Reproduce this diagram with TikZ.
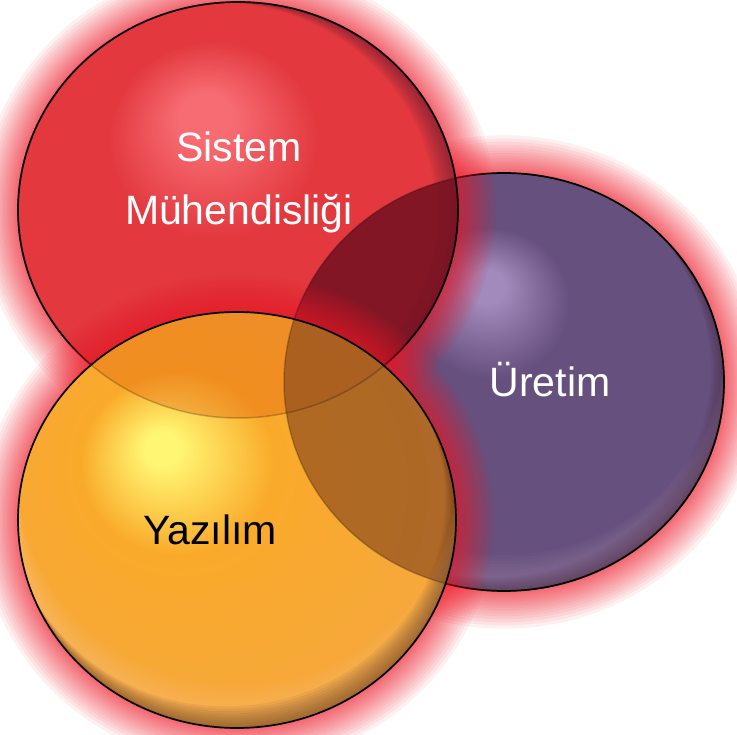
\documentclass[tikz,border=0pt]{standalone}
\usepackage{fontspec}
\setmainfont{Liberation Sans}
\definecolor{glowred}{RGB}{236,28,42}
\definecolor{redhi}{RGB}{246,108,114}
\definecolor{redmid}{RGB}{226,56,62}
\definecolor{redlo}{RGB}{180,52,60}
\definecolor{purhi}{RGB}{162,138,188}
\definecolor{purmid}{RGB}{102,80,126}
\definecolor{purlo}{RGB}{94,64,94}
\definecolor{purlight}{RGB}{170,140,175}
\definecolor{orahi}{RGB}{255,246,115}
\definecolor{oramid}{RGB}{250,170,42}
\definecolor{oraout}{RGB}{246,168,60}
\definecolor{oralo}{RGB}{205,135,55}
\definecolor{oralight}{RGB}{255,205,140}
\definecolor{rimbrown}{RGB}{105,58,25}
\definecolor{rimred}{RGB}{80,25,45}
\definecolor{rimpur}{RGB}{70,40,60}
\definecolor{maroon}{RGB}{118,18,34}
\definecolor{deeporange}{RGB}{225,92,14}
\definecolor{ovbrown}{RGB}{140,75,30}
\pgfdeclareradialshading{redball}{\pgfpoint{-4bp}{12bp}}{color(0bp)=(redhi); color(3bp)=(redhi); color(12bp)=(redmid); color(26bp)=(redmid); color(40bp)=(redlo)}
\pgfdeclareradialshading{purball}{\pgfpoint{-2bp}{12bp}}{color(0bp)=(purhi); color(2bp)=(purhi); color(9bp)=(purmid); color(28bp)=(purmid); color(42bp)=(purlo)}
\pgfdeclareradialshading{oraball}{\pgfpoint{-9bp}{9bp}}{color(0bp)=(orahi); color(2bp)=(orahi); color(11bp)=(oramid); color(28bp)=(oraout); color(45bp)=(oralo)}
\newcommand\glowring[4]{%
  \foreach \i in {1,...,16}{%
    \pgfmathsetmacro\gr{1.4*\i+0.06*\i*\i}%
    \fill[glowred, fill opacity=0.065, even odd rule]
      (#1,#2) ellipse [x radius={#3pt+\gr pt}, y radius={#4pt+\gr pt}]
      (#1,#2) ellipse [x radius=#3pt, y radius=#4pt];
  }%
}
% crescent shading at the rim: cx cy rx ry colour dx dy opacity base
\newcommand\rimshade[9]{%
  \begin{scope}
    \clip (#1,#2) ellipse [x radius=#3pt, y radius=#4pt];
    \foreach \i in {1,...,9}{%
      \fill[#5, fill opacity=#8, even odd rule]
        ({#1-#3-10},{#2-#4-10}) rectangle ({#1+#3+10},{#2+#4+10})
        ({#1+(#6)*(\i+#9)},{#2+(#7)*(\i+#9)}) ellipse [x radius=#3pt, y radius=#4pt];
    }%
  \end{scope}%
}
\tikzset{
  ballline/.style={draw=black, line width=1.7pt},
  faintline/.style={draw=black, draw opacity=0.22, line width=1.5pt},
  lbl/.style={font=\fontsize{41}{41}\selectfont, anchor=base, inner sep=0pt},
  purE/.style={insert path={(504,382) ellipse [x radius=220pt, y radius=209pt]}},
  redE/.style={insert path={(238,210) ellipse [x radius=220pt, y radius=208pt]}},
  oraE/.style={insert path={(237,520) ellipse [x radius=219pt, y radius=208pt]}}
}
\begin{document}
\begin{tikzpicture}[x=1pt, y=-1pt]
\useasboundingbox (0,0) rectangle (737,735);
% ---------- purple ----------
\glowring{504}{382}{220}{209}
\shade[shading=purball, purE];
\rimshade{504}{382}{220}{209}{purlight}{0}{-3}{0.06}{3}
\rimshade{504}{382}{220}{209}{rimpur}{-1.5}{-1.5}{0.065}{0}
\draw[ballline, purE];
% ---------- red ----------
\glowring{238}{210}{220}{208}
\shade[shading=redball, redE];
\rimshade{238}{210}{220}{208}{rimred}{-2.5}{0}{0.065}{0}
\begin{scope}
  \clip[purE];
  \fill[maroon, fill opacity=0.88, redE];
\end{scope}
\draw[ballline, redE];
% ---------- orange ----------
\glowring{237}{520}{219}{208}
\shade[shading=oraball, oraE];
\begin{scope}
  \clip[redE];
  \fill[deeporange, fill opacity=0.35, oraE];
\end{scope}
\begin{scope}
  \clip[purE];
  \fill[ovbrown, fill opacity=0.68, oraE];
\end{scope}
\rimshade{237}{520}{219}{208}{oralight}{0}{-3.5}{0.05}{3}
\rimshade{237}{520}{219}{208}{rimbrown}{-1.2}{-2.4}{0.085}{0}
\draw[ballline, oraE];
% faint outlines seen through the balls
\draw[faintline, purE];
\draw[faintline, redE];
% ---------- labels ----------
\node[lbl, text=white] (sys1) at (239,162) {Sistem};
\node[lbl, text=white] (sys2) at (239,225) {Mühendisliği};
\node[lbl, text=white] (ure) at (550,397) {Üretim};
\node[lbl, text=black] (yaz) at (210,544) {Yazılım};
\end{tikzpicture}
\end{document}
